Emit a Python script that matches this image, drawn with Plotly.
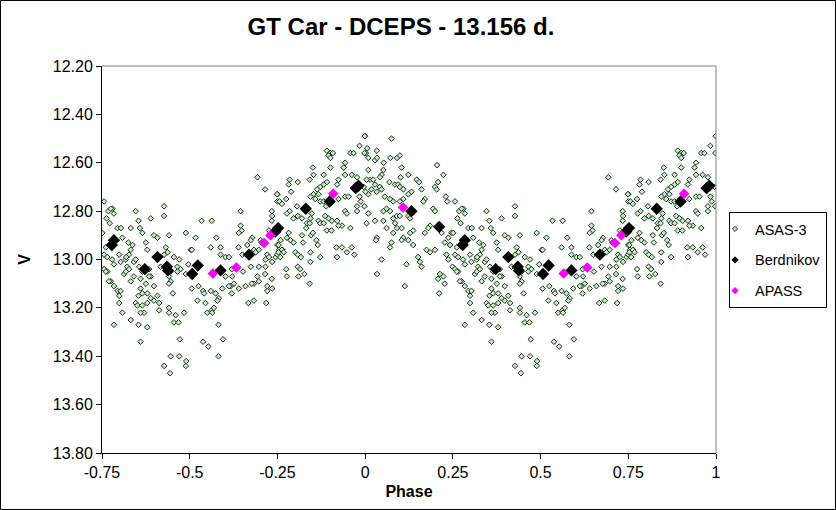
import numpy as np
import plotly.graph_objects as go

# %% 数据 (相位 0..1, 相位 >= 0.25 的点在 phase-1 处再画一次)
asas_phase = [
    0.000, 0.075, 0.006, 0.002, 0.033, 0.009, 0.028, 0.034, 0.053, 0.072,
    0.091, 0.099, 0.104, 0.205, 0.223, 0.123, 0.052, 0.047, 0.042, 0.009,
    0.014, 0.004, 0.023, 0.028, 0.147, 0.154, 0.069, 0.085, 0.094, 0.101,
    0.109, 0.099, 0.161, 0.208, 0.199, 0.204, 0.042, 0.047, 0.033, 0.018,
    0.009, 0.001, 0.132, 0.123, 0.056, 0.071, 0.080, 0.230, 0.234, 0.170,
    0.166, 0.109, 0.099, 0.061, 0.052, 0.071, 0.194, 0.199, 0.009, 0.004,
    0.028, 0.052, 0.080, 0.090, 0.099, 0.085, 0.091, 0.123, 0.128, 0.185,
    0.180, 0.170, 0.213, 0.218, 0.061, 0.104, 0.128, 0.137, 0.080, 0.033,
    0.031, 0.109, 0.104, 0.123, 0.075, 0.071, 0.137, 0.237, 0.227, 0.242,
    0.199, 0.175, 0.185, 0.151, 0.047, 0.118, 0.156, 0.161, 0.232, 0.237,
    0.213, 0.223, 0.208, 0.034, 0.227, 0.113, 0.211,
    0.256, 0.268, 0.280, 0.284, 0.275, 0.346, 0.427, 0.427, 0.389, 0.263,
    0.272, 0.354, 0.294, 0.304, 0.332, 0.358, 0.365, 0.246, 0.251, 0.308,
    0.398, 0.408, 0.441, 0.489, 0.375, 0.379, 0.325, 0.337, 0.332, 0.327,
    0.242, 0.261, 0.432, 0.437, 0.427, 0.503, 0.256, 0.265, 0.299, 0.279,
    0.318, 0.319, 0.341, 0.346, 0.455, 0.470, 0.249, 0.256, 0.265, 0.284,
    0.303, 0.322, 0.327, 0.356, 0.365, 0.417, 0.384, 0.389, 0.446, 0.465,
    0.474, 0.496, 0.261, 0.313, 0.318, 0.341, 0.360, 0.384, 0.441, 0.446,
    0.465, 0.489, 0.275, 0.270, 0.332, 0.375, 0.441, 0.284, 0.294, 0.303,
    0.360, 0.365, 0.354, 0.398, 0.379, 0.389, 0.408, 0.413, 0.398, 0.299,
    0.299, 0.346, 0.351, 0.365, 0.370, 0.360, 0.379, 0.413, 0.441, 0.441,
    0.452, 0.460, 0.484, 0.308, 0.332, 0.354, 0.379, 0.455, 0.468, 0.284,
    0.360, 0.472, 0.446, 0.470, 0.427, 0.444, 0.490, 0.489,
    0.693, 0.715, 0.750, 0.750, 0.645, 0.734, 0.735, 0.734, 0.534, 0.563,
    0.645, 0.648, 0.640, 0.726, 0.576, 0.517, 0.678, 0.674, 0.702, 0.759,
    0.764, 0.506, 0.560, 0.588, 0.639, 0.664, 0.683, 0.697, 0.705, 0.750,
    0.755, 0.650, 0.688, 0.721, 0.726, 0.716, 0.588, 0.602, 0.612, 0.745,
    0.750, 0.697, 0.716, 0.674, 0.735, 0.525, 0.620, 0.652, 0.715, 0.602,
    0.621, 0.626, 0.617, 0.693, 0.697, 0.683, 0.734, 0.506, 0.525, 0.538,
    0.541, 0.560, 0.593, 0.612, 0.640, 0.659, 0.677, 0.721, 0.721, 0.735,
    0.574, 0.583, 0.579, 0.620, 0.522, 0.545, 0.667, 0.683, 0.718, 0.550,
    0.563, 0.569, 0.564, 0.582, 0.538, 0.553, 0.595, 0.582,
    0.999, 0.984, 0.998, 0.891, 0.901, 0.908, 0.896, 0.901, 0.958, 0.967,
    0.943, 0.939, 0.901, 0.851, 0.853, 0.842, 0.882, 0.943, 0.962, 0.977,
    0.924, 0.920, 0.785, 0.782, 0.808, 0.891, 0.882, 0.872, 0.789, 0.863,
    0.853, 0.867, 0.996, 0.749, 0.756, 0.763, 0.775, 0.844, 0.858, 0.872,
    0.943, 0.953, 0.984, 0.988, 0.977, 0.998, 0.882, 0.889, 0.924, 0.806,
    0.785, 0.777, 0.796, 0.808, 0.820, 0.943, 0.948, 0.977, 0.848, 0.844,
    0.886, 0.896, 0.905, 0.920, 0.934, 0.924, 0.958, 0.834, 0.842, 0.832,
    0.867, 0.872, 0.882, 0.891, 0.904, 0.782, 0.777, 0.787, 0.820, 0.846,
    0.851, 0.753, 0.763, 0.768, 0.796, 0.823, 0.861, 0.865, 0.918, 0.934,
    0.962, 0.753, 0.758, 0.801, 0.808, 0.817, 0.844, 0.872, 0.920, 0.948,
    0.969, 0.844, 0.775, 0.777, 0.808, 0.815, 0.827, 0.810, 0.842,
]
asas_v = [
    12.49, 12.50, 12.54, 12.56, 12.55, 12.58, 12.59, 12.58, 12.60, 12.58,
    12.58, 12.57, 12.62, 12.61, 12.65, 12.65, 12.63, 12.65, 12.66, 12.63,
    12.67, 12.67, 12.67, 12.69, 12.67, 12.68, 12.68, 12.69, 12.69, 12.66,
    12.71, 12.70, 12.71, 12.68, 12.70, 12.71, 12.70, 12.71, 12.72, 12.71,
    12.73, 12.72, 12.72, 12.73, 12.74, 12.75, 12.76, 12.74, 12.76, 12.75,
    12.76, 12.75, 12.76, 12.79, 12.80, 12.80, 12.79, 12.80, 12.81, 12.85,
    12.84, 12.84, 12.83, 12.82, 12.82, 12.85, 12.87, 12.82, 12.83, 12.86,
    12.87, 12.89, 12.86, 12.89, 12.87, 12.87, 12.89, 12.88, 12.89, 12.91,
    12.92, 12.91, 12.92, 12.92, 12.93, 12.95, 12.94, 12.91, 12.93, 12.94,
    12.96, 12.96, 12.97, 12.99, 13.00, 13.02, 13.01, 13.03, 12.98, 13.00,
    13.06, 13.07, 13.08, 13.06, 13.10, 13.11, 13.14,
    12.76, 12.80, 12.79, 12.81, 12.79, 12.80, 12.78, 12.82, 12.83, 12.83,
    12.85, 12.84, 12.87, 12.87, 12.87, 12.87, 12.89, 12.89, 12.89, 12.91,
    12.90, 12.91, 12.90, 12.89, 12.93, 12.96, 12.93, 12.94, 12.96, 12.98,
    12.94, 12.95, 12.95, 12.97, 12.98, 12.96, 12.98, 12.99, 12.98, 13.00,
    13.00, 12.99, 13.01, 13.00, 12.99, 13.00, 13.03, 13.04, 13.05, 13.02,
    13.01, 13.03, 13.04, 13.03, 13.05, 13.03, 13.04, 13.07, 13.05, 13.03,
    13.04, 13.02, 13.05, 13.06, 13.05, 13.07, 13.08, 13.07, 13.07, 13.09,
    13.05, 13.06, 13.09, 13.09, 13.09, 13.10, 13.10, 13.11, 13.13, 13.13,
    13.12, 13.14, 13.15, 13.11, 13.14, 13.16, 13.15, 13.18, 13.17, 13.15,
    13.18, 13.18, 13.19, 13.19, 13.22, 13.22, 13.18, 13.21, 13.20, 13.22,
    13.14, 13.23, 13.22, 13.22, 13.25, 13.27, 13.28, 13.26, 13.26, 13.27,
    13.34, 13.33, 13.40, 13.40, 13.44, 13.47, 13.42, 13.44,
    12.66, 12.71, 12.73, 12.76, 12.80, 12.80, 12.82, 12.84, 12.84, 12.84,
    12.86, 12.88, 12.89, 12.88, 12.91, 12.91, 12.91, 12.92, 12.92, 12.92,
    12.96, 12.96, 12.95, 12.95, 12.95, 12.94, 12.96, 12.96, 12.93, 12.94,
    12.96, 12.98, 12.97, 12.98, 12.99, 13.00, 12.98, 12.99, 12.99, 12.99,
    12.98, 13.03, 13.03, 13.03, 13.01, 13.03, 13.04, 13.05, 13.06, 13.07,
    13.07, 13.10, 13.11, 13.07, 13.09, 13.10, 13.08, 13.12, 13.11, 13.13,
    13.14, 13.13, 13.12, 13.11, 13.12, 13.11, 13.10, 13.11, 13.13, 13.12,
    13.14, 13.16, 13.17, 13.14, 13.17, 13.18, 13.18, 13.17, 13.18, 13.22,
    13.21, 13.20, 13.22, 13.27, 13.34, 13.36, 13.33, 13.40,
    12.49, 12.53, 12.56, 12.55, 12.56, 12.56, 12.57, 12.58, 12.56, 12.56,
    12.60, 12.62, 12.62, 12.62, 12.65, 12.67, 12.65, 12.65, 12.65, 12.66,
    12.67, 12.69, 12.67, 12.69, 12.68, 12.68, 12.69, 12.70, 12.72, 12.71,
    12.73, 12.73, 12.70, 12.73, 12.76, 12.77, 12.75, 12.74, 12.75, 12.76,
    12.74, 12.74, 12.74, 12.76, 12.78, 12.78, 12.76, 12.78, 12.75, 12.78,
    12.80, 12.81, 12.83, 12.82, 12.83, 12.80, 12.81, 12.80, 12.81, 12.83,
    12.82, 12.83, 12.84, 12.84, 12.86, 12.86, 12.87, 12.85, 12.85, 12.87,
    12.84, 12.85, 12.85, 12.88, 12.88, 12.89, 12.91, 12.92, 12.90, 12.90,
    12.89, 12.94, 12.96, 12.97, 12.93, 12.93, 12.92, 12.94, 12.95, 12.95,
    12.95, 12.97, 12.99, 12.97, 12.98, 12.99, 12.97, 12.99, 12.99, 12.97,
    12.98, 13.01, 13.04, 13.07, 13.03, 13.04, 13.06, 13.07, 13.10,
]

berd_phase = [0.132, 0.211, 0.278, 0.284, 0.372, 0.408, 0.435, 0.438, 0.507,
              0.523, 0.588, 0.669, 0.744, 0.752, 0.831, 0.899, 0.973, 0.981]
berd_v = [12.80, 12.865, 12.94, 12.92, 13.04, 12.99, 13.03, 13.045, 13.06,
          13.025, 13.045, 12.98, 12.885, 12.87, 12.79, 12.76, 12.705, 12.695]

apass_phase = [0.108, 0.566, 0.633, 0.712, 0.730, 0.909]
apass_v = [12.785, 13.058, 13.033, 12.932, 12.90, 12.728]

x_tickvals = [-0.75, -0.5, -0.25, 0, 0.25, 0.5, 0.75, 1]
x_ticktext = ["-0.75", "-0.5", "-0.25", "0", "0.25", "0.5", "0.75", "1"]
y_tickvals = [12.2, 12.4, 12.6, 12.8, 13.0, 13.2, 13.4, 13.6, 13.8]

title = "GT Car - DCEPS - 13.156 d."
FONT = "Arial, Liberation Sans, sans-serif"


# %%
def fold(phase, mag):
    """把相位 >= 0.25 的点复制到 phase-1"""
    p = np.asarray(phase, dtype=float)
    m = np.asarray(mag, dtype=float)
    keep = p >= 0.25
    return np.concatenate((p, p[keep] - 1)), np.concatenate((m, m[keep]))


W, H = 836, 510
ml, mr, mt, mb = 102, 120, 66, 57
pw, ph = W - ml - mr, H - mt - mb

asas_marker = dict(symbol="diamond", size=4.3, color="#c4eec4", line=dict(color="#1e2e1e", width=1))

fig = go.Figure()

x, y = fold(asas_phase, asas_v)
fig.add_trace(go.Scatter(x=x, y=y, mode="markers", showlegend=False, marker=asas_marker))
x, y = fold(berd_phase, berd_v)
fig.add_trace(go.Scatter(x=x, y=y, mode="markers", showlegend=False,
                         marker=dict(symbol="diamond", size=9.5, color="black",
                                     line=dict(color="black", width=0))))
x, y = fold(apass_phase, apass_v)
fig.add_trace(go.Scatter(x=x, y=y, mode="markers", showlegend=False,
                         marker=dict(symbol="diamond", size=7.7, color="#ff00ff",
                                     line=dict(color="#d000d0", width=0.5))))

# 图例用的空 trace (图例里的符号比图中小)
legend_items = [
    ("ASAS-3", dict(asas_marker, size=4)),
    ("Berdnikov", dict(symbol="diamond", size=5.6, color="black", line=dict(width=0))),
    ("APASS", dict(symbol="diamond", size=5.6, color="#ff00ff", line=dict(width=0))),
]
for name, mk in legend_items:
    fig.add_trace(go.Scatter(x=[None], y=[None], mode="markers", name=name,
                             legendgroup=name, marker=mk))

fig.update_layout(
    width=W, height=H,
    margin=dict(l=ml, r=mr, t=mt, b=mb, autoexpand=False),
    paper_bgcolor="white", plot_bgcolor="white",
    font=dict(family=FONT, size=16, color="black"),
    title=dict(text="<b>" + title + "</b>", x=401 / W, xref="container", xanchor="center",
               y=1 - 27 / H, yref="container", yanchor="middle",
               font=dict(size=24, family=FONT, color="black")),
    xaxis=dict(range=[-0.75, 1], tickvals=x_tickvals, ticktext=x_ticktext,
               showgrid=False, zeroline=False, showline=True, linecolor="black", linewidth=1,
               ticks="outside", ticklen=5, tickcolor="black", tickwidth=1,
               tickfont=dict(size=16),
               title=dict(text="<b>Phase</b>", font=dict(size=16), standoff=5)),
    yaxis=dict(range=[13.8, 12.2], tickvals=y_tickvals, tickformat=".2f",
               showgrid=False, zeroline=False, showline=True, linecolor="black", linewidth=1,
               ticks="outside", ticklen=5, tickcolor="black", tickwidth=1,
               tickfont=dict(size=16),
               title=dict(text="<b>V</b>", font=dict(size=16), standoff=18)),
    legend=dict(x=(729 - ml) / pw, y=(H - mb - 212) / ph, xanchor="left", yanchor="top",
                bgcolor="white", bordercolor="black", borderwidth=1,
                font=dict(size=14.5, family=FONT), tracegroupgap=9, indentation=-15),
    shapes=[
        # 绘图区上边和右边的灰线
        dict(type="line", xref="paper", yref="paper", x0=0, x1=1, y0=1, y1=1,
             line=dict(color="#808080", width=1)),
        dict(type="line", xref="paper", yref="paper", x0=1, x1=1, y0=0, y1=1,
             line=dict(color="#808080", width=1)),
        # 整个图的黑框
        dict(type="rect", xref="paper", yref="paper",
             x0=(0.5 - ml) / pw, x1=(W - 0.5 - ml) / pw,
             y0=(H - mb - (H - 0.5)) / ph, y1=(H - mb - 0.5) / ph,
             line=dict(color="black", width=1)),
    ],
)

# 去掉页面 body 的默认边距, 让图从左上角开始
fig.write_html("out.html", config={"displayModeBar": False},
               post_script="document.body.style.margin='0';")
